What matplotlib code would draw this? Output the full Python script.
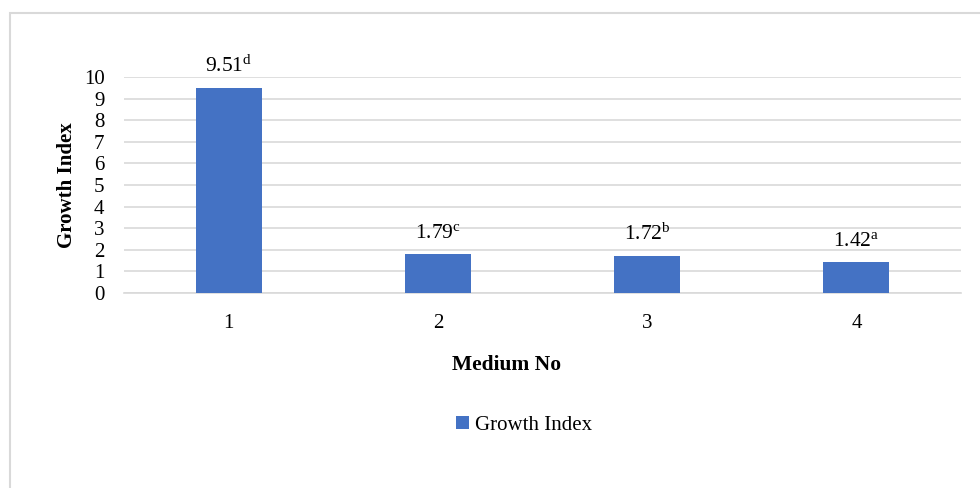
import matplotlib
matplotlib.use("Agg")
from matplotlib import pyplot as plt
from matplotlib.patches import Rectangle

media = ["1", "2", "3", "4"]
growth_index = [9.51, 1.79, 1.72, 1.42]
letters = ["d", "c", "b", "a"]
y_ticks = list(range(0, 11))

BAR_COLOR = "#4472C4"
GRID_COLOR = "#D9D9D9"

plt.rcParams["font.family"] = ["Liberation Serif", "DejaVu Serif"]
plt.rcParams["mathtext.fontset"] = "custom"
plt.rcParams["mathtext.rm"] = "Liberation Serif"
plt.rcParams["mathtext.it"] = "Liberation Serif"

fig = plt.figure(figsize=(9.8, 4.88), dpi=100)
ax = fig.add_axes([124 / 980, 1 - 293 / 488, (961 - 124) / 980, (293 - 77) / 488])

x = list(range(len(media)))
bars = ax.bar(x, growth_index, width=0.316, color=BAR_COLOR, label="Growth Index", zorder=3)

# value labels with significance letters
for xi, v, s in zip(x, growth_index, letters):
    ax.annotate(f"{v:.2f}$^{{\\mathrm{{{s}}}}}$", (xi, v), xytext=(0, 8),
                textcoords="offset points", ha="center", va="bottom", fontsize=15.5)

ax.set_xlim(-0.5, len(media) - 0.5)
ax.set_ylim(0, 10)
ax.set_yticks(y_ticks)
ax.set_xticks(x)
ax.set_xticklabels(media)
ax.tick_params(axis="both", length=0, labelsize=15)
ax.tick_params(axis="x", pad=15)
ax.tick_params(axis="y", pad=14)
ax.yaxis.grid(True, color=GRID_COLOR, linewidth=1.2, zorder=0)
ax.set_axisbelow(True)
for side in ["top", "right", "left"]:
    ax.spines[side].set_visible(False)
ax.spines["bottom"].set_color(GRID_COLOR)
ax.spines["bottom"].set_linewidth(1.2)

ax.set_ylabel("Growth Index", fontsize=15, fontweight="bold", labelpad=5)
fig.text(507 / 980, 1 - 365 / 488, "Medium No", fontsize=15.5, fontweight="bold",
         ha="center", va="center")

fig.legend(handles=[bars], labels=["Growth Index"], loc="center",
           bbox_to_anchor=(524 / 980, 1 - 425 / 488), frameon=False,
           fontsize=15, handlelength=0.6, handleheight=0.6, handletextpad=0.3)

# outer chart border
fig.patches.append(Rectangle((10 / 980, -0.1), 1.2, 1 - 13 / 488 + 0.1,
                             transform=fig.transFigure, fill=False,
                             edgecolor="#D9D9D9", linewidth=1.5))

fig.savefig("out.png", dpi=100)
